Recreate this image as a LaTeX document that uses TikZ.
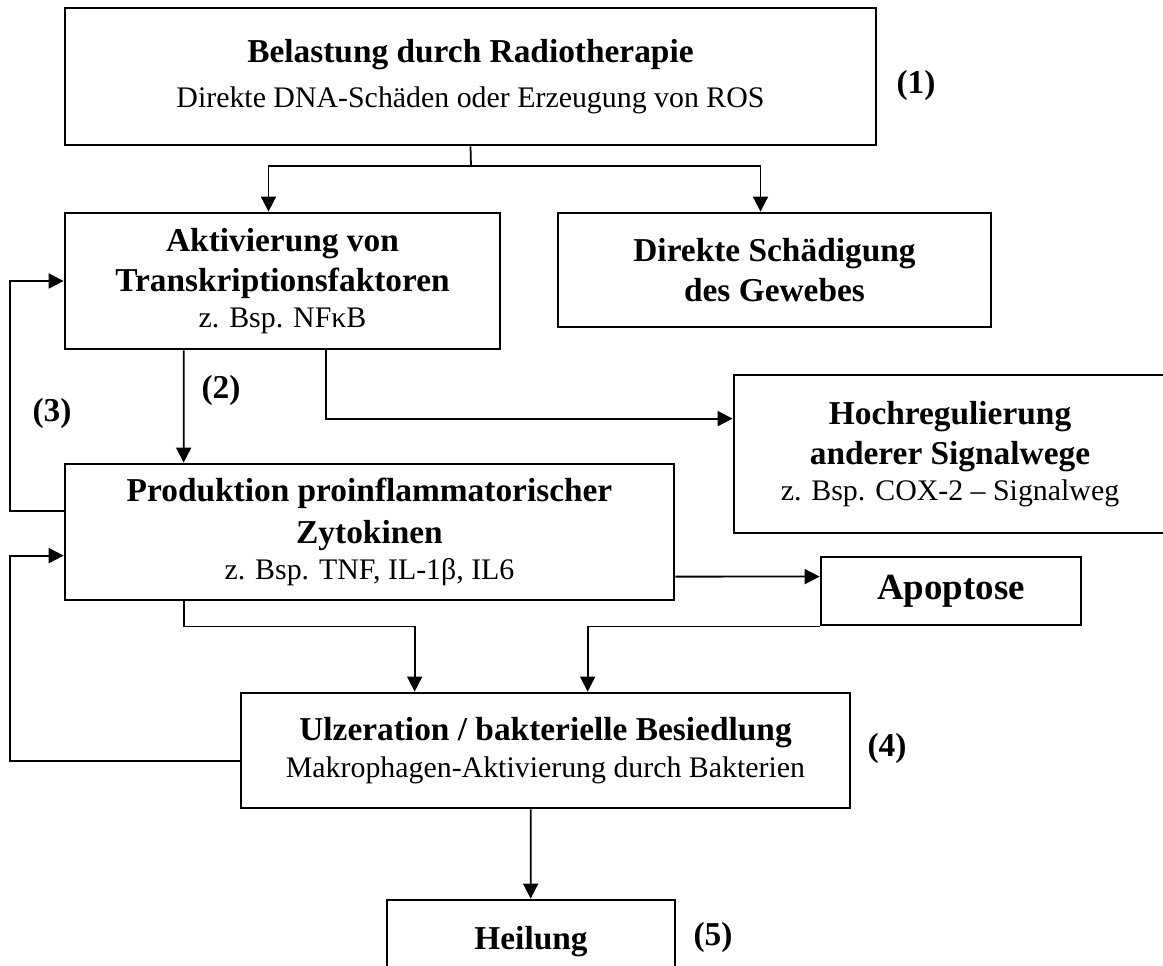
\documentclass[tikz,border=0pt]{standalone}
\usepackage{fontspec}
\setmainfont{Liberation Serif}
\usetikzlibrary{arrows.meta,calc}
\newcommand{\reg}{\fontsize{17}{20}\selectfont\mdseries}
\begin{document}
\begin{tikzpicture}[x=0.02cm,y=-0.02cm,
  box/.style={draw, line width=1.6pt, align=center, inner sep=0pt, font=\fontsize{19}{23}\selectfont\bfseries},
  conn/.style={line width=1pt, -{Triangle[length=8.5pt,width=8.5pt]}},
  lbl/.style={font=\fontsize{19}{23}\selectfont\bfseries}]
\clip (0,0) rectangle (1163,965);
\node[box, minimum width=16.22cm, minimum height=2.74cm] (rad) at (470.5,76.5){Belastung durch Radiotherapie\\[3pt]{\reg Direkte DNA-Schäden oder Erzeugung von ROS}};
\node[box, minimum width=8.7cm, minimum height=2.72cm] (tf) at (282.5,281){Aktivierung von\\Transkriptionsfaktoren\\[-2.7pt]{\reg z. Bsp. NFκB}};
\node[box, minimum width=8.66cm, minimum height=2.28cm] (dmg) at (774.5,270){Direkte Schädigung\\des Gewebes};
\node[box, minimum width=8.64cm, minimum height=3.16cm] (sig) at (950,454){Hochregulierung\\anderer Signalwege\\[-2.7pt]{\reg z. Bsp. COX-2 – Signalweg}};
\node[box, minimum width=12.18cm, minimum height=2.72cm] (cyt) at (369.5,532){Produktion proinflammatorischer\\[1pt]Zytokinen\\[-2.7pt]{\reg z. Bsp. TNF, IL-1β, IL6}};
\node[box, minimum width=5.2cm, minimum height=1.36cm, font=\fontsize{21}{25}\selectfont\bfseries] (apop) at (951,591){Apoptose};
\node[box, minimum width=12.18cm, minimum height=2.3cm] (ulz) at (545.5,750.5){Ulzeration / bakterielle Besiedlung\\[-2pt]{\reg Makrophagen-Aktivierung durch Bakterien}};
\node[box, minimum width=5.76cm, minimum height=1.68cm] (heil) at (531,942){Heilung};
\node[lbl] (l1) at (916,85){(1)};
\node[lbl] (l2) at (221,390){(2)};
\node[lbl] (l3) at (52,413){(3)};
\node[lbl] (l4) at (887,748){(4)};
\node[lbl] (l5) at (713,937){(5)};
\coordinate (split) at (471,166);
\draw[line width=1pt] (rad.south) -- (split);
\draw[conn] (split) -| ($(tf.north)+(-14,0)$);
\draw[conn] (split) -| ($(dmg.north)+(-14,0)$);
\draw[conn] ($(tf.south west)+(120,0)$) -- ($(cyt.north west)+(120,0)$);
\draw[conn] ($(tf.south west)+(262,0)$) |- ($(sig.north west)+(0,45)$);
\draw[conn] ($(cyt.north west)+(0,48)$) -- ++(-54,0) |- (tf.west);
\draw[conn] ($(ulz.north west)+(0,69)$) -- ++(-230,0) |- ($(cyt.north west)+(0,93)$);
\draw[conn] ($(cyt.north east)+(0,114)$) -- ($(apop.north west)+(0,21)$);
\draw[conn] ($(cyt.south west)+(120,0)$) -- ++(0,25) -| ($(ulz.north west)+(175,0)$);
\draw[conn] (apop.south west) -| ($(ulz.north west)+(348,0)$);
\draw[conn] ($(ulz.south west)+(291,0)$) -- ($(heil.north west)+(145,0)$);
\end{tikzpicture}
\end{document}
